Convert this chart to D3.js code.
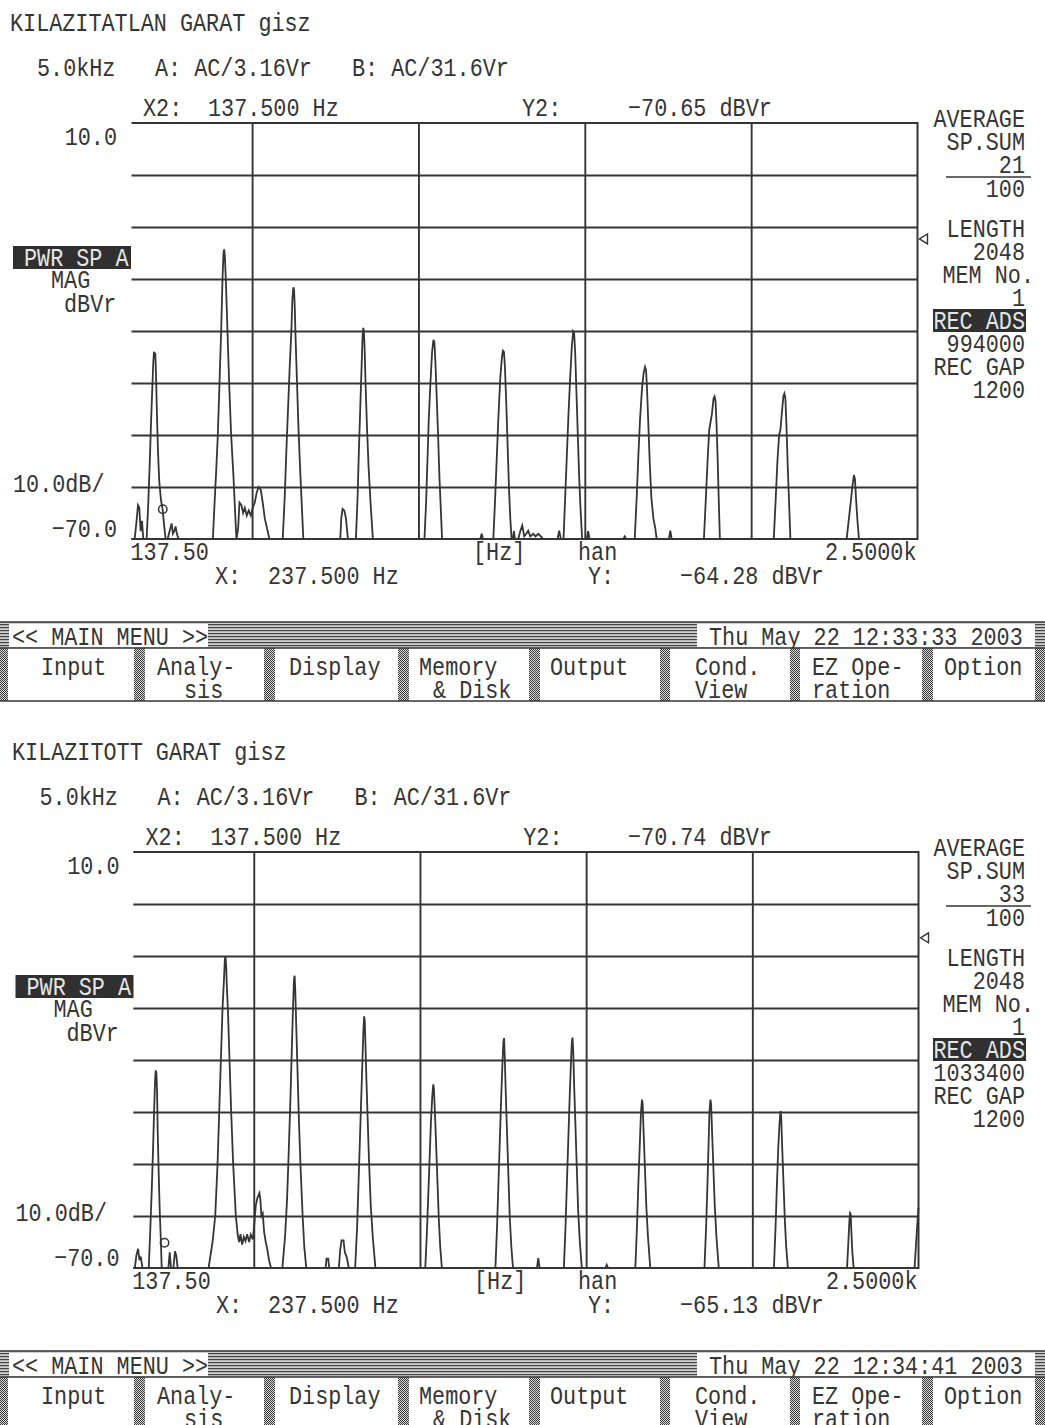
<!DOCTYPE html>
<html>
<head>
<meta charset="utf-8">
<script src="https://cdn.jsdelivr.net/npm/d3@7"></script>
<style>
  html, body { margin: 0; padding: 0; background: #fff; }
  svg { display: block; }
</style>
</head>
<body>
<svg id="screen" width="1045" height="1425"></svg>
<script>
// ---------- analyser settings shown on both screens ----------
const freqDomain = [137.5, 2500];          // Hz, X axis span
const levelDomain = [-70, 10];             // dBVr, Y axis span
const gridFreqs = [500, 1000, 1500, 2000];
const gridLevels = [0, -10, -20, -30, -40, -50, -60];
const dbPerDiv = 10;

const titles = ["KILAZITATLAN GARAT gisz", "KILAZITOTT GARAT gisz"];
const rangeInfo = ["5.0kHz", "A: AC/3.16Vr", "B: AC/31.6Vr"];
const x2Freq = [137.5, 137.5];
const y2Level = [-70.65, -70.74];
const cursorFreq = [237.5, 237.5];
const cursorLevel = [-64.28, -65.13];
const refMarkLevel = [-12.3, -6.5];
const spSum = ["21", "33"];
const spTotal = "100";
const fftLength = "2048";
const memNo = "1";
const recAds = ["994000", "1033400"];
const recGap = "1200";
const timestamps = ["Thu May 22 12:33:33 2003", "Thu May 22 12:34:41 2003"];
const menuItems = [["Input"], ["Analy-", "sis"], ["Display"], ["Memory", "& Disk"],
                   ["Output"], ["Cond.", "View"], ["EZ Ope-", "ration"], ["Option"]];

// ---------- averaged power spectra, [Hz, dBVr] ----------
const spectrumA = [
  [137.5,-70],
  [147,-70],[152,-67],[157,-63.5],[161,-64],[165,-68.5],[169,-66.5],[173,-70],
  [183,-70],[188,-63],[192,-56],[196,-48],[200,-41],[203,-36],[205,-34],[207,-34.6],[209,-34.2],[211,-38],[214,-46],[217,-53],[221,-59],[226,-62.5],[231,-64.3],[235,-67],[240,-70],
  [246,-70],[250,-69],[254,-68],[258,-67],[262,-69],[266,-68.5],[270,-67.6],[274,-69],[279,-70],
  [382,-70],[388,-62],[392,-57],[397,-50],[402,-40],[407,-30],[411,-20],[414,-15],[416,-14.3],[418,-15.5],[421,-20],[426,-30],[431,-40],[437,-50],[444,-58],[449,-65],[453,-70],
  [458,-68],[462,-63],[468,-63.5],[473,-65],[478,-64],[484,-65.5],[490,-64.5],[496,-65.5],[502,-64],[508,-63],[514,-61],[520,-60],[526,-60.5],[532,-63],[538,-66],[545,-68],[552,-70],
  [592,-70],[598,-62],[603,-53],[608,-45],[613,-37],[618,-30],[621,-24],[624,-21.6],[626,-22],[628,-25],[631,-32],[635,-40],[639,-48],[644,-56],[649,-63],[654,-70],
  [765,-70],[768,-66],[772,-64.2],[777,-64.5],[782,-66],[788,-70],
  [812,-70],[817,-62],[821,-53],[825,-45],[829,-37],[832,-31],[834,-29.4],[836,-30],[838,-33],[841,-40],[845,-48],[850,-56],[856,-63],[863,-70],
  [1018,-70],[1023,-63],[1027,-55],[1031,-47],[1036,-40],[1041,-34],[1045,-31.7],[1048,-32.2],[1051,-36],[1055,-43],[1059,-50],[1063,-58],[1067,-64],[1071,-70],
  [1186,-70],[1190,-69],[1194,-70],
  [1225,-70],[1230,-63],[1235,-55],[1240,-47],[1246,-39],[1251,-35],[1254,-33.8],[1257,-34],[1260,-37],[1264,-44],[1268,-52],[1272,-60],[1276,-66],[1280,-70],
  [1284,-70],[1287,-68.5],[1290,-70],[1300,-70],[1306,-68.5],[1312,-67.4],[1318,-69.5],[1324,-69],[1330,-68.4],[1336,-69.5],[1345,-69],[1352,-69.5],[1360,-69],[1368,-69.5],[1375,-70],
  [1418,-70],[1423,-68.4],[1428,-70],
  [1436,-70],[1441,-62],[1446,-54],[1451,-46],[1456,-39],[1461,-33],[1465,-30.1],[1468,-30.5],[1471,-34],[1475,-42],[1479,-50],[1483,-58],[1487,-64],[1492,-70],
  [1506,-70],[1510,-68.5],[1514,-70],
  [1616,-70],[1620,-69.5],[1624,-70],
  [1650,-70],[1656,-62],[1661,-54],[1666,-47],[1672,-41],[1677,-38],[1681,-36.9],[1684,-37.5],[1687,-41],[1691,-48],[1695,-55],[1700,-62],[1706,-66],[1712,-68],[1716,-70],
  [1753,-70],[1757,-68.4],[1761,-70],
  [1858,-70],[1864,-62],[1869,-55],[1874,-49],[1878,-47.5],[1882,-46],[1887,-43],[1890,-42.6],[1893,-43.5],[1896,-48],[1899,-54],[1902,-61],[1906,-70],
  [2068,-70],[2074,-62],[2079,-55],[2084,-50],[2088,-49],[2092,-46],[2097,-42.5],[2100,-42],[2103,-43],[2106,-48],[2110,-56],[2114,-63],[2118,-70],
  [2287,-70],[2294,-66],[2300,-62.5],[2305,-59.5],[2309,-57.7],[2312,-58.5],[2315,-62],[2319,-66],[2324,-70],
  [2500,-70]
];

const spectrumB = [
  [137.5,-70],
  [142,-70],[147,-67.5],[152,-66.3],[156,-68.5],[160,-67.8],[165,-70],
  [184,-70],[189,-62],[193,-55],[197,-47],[200,-40],[203,-34],[205,-32],[207,-32.5],[209,-36],[211,-44],[214,-52],[217,-59],[220,-64],[223,-70],
  [243,-70],[247,-67],[251,-70],[258,-70],[263,-66.8],[267,-67.7],[271,-70],
  [364,-70],[376,-65],[384,-60],[391,-50],[396,-40],[401,-30],[406,-20],[410,-15],[413,-10.5],[415,-10.2],[417,-12],[419,-16],[422,-20],[427,-30],[432,-40],[438,-50],[446,-60],
  [452,-63.8],[456,-65],[460,-63.5],[465,-65.5],[470,-64],[475,-64.8],[480,-63.5],[486,-65],[491,-63.6],[497,-64.5],
  [501,-62],[506,-58],[511,-56.5],[517,-55.6],[520,-57],[523,-60],[527,-59.5],[531,-63],[536,-65],[541,-66.5],[546,-68.5],[552,-70],
  [586,-70],[594,-64],[600,-57],[605,-48],[610,-38],[614,-29],[618,-20],[621,-14.5],[623,-13.8],[625,-17],[628,-24],[632,-33],[636,-42],[641,-51],[647,-60],[652,-66],[658,-70],
  [716,-70],[719,-68.2],[724,-68.2],[727,-70],
  [756,-70],[760,-66.5],[764,-64.7],[770,-64.7],[774,-67],[780,-68],[786,-70],
  [805,-70],[811,-62],[815,-54],[819,-46],[823,-38],[827,-30],[830,-24],[832,-21.6],[834,-22.5],[836,-27],[839,-34],[843,-42],[847,-50],[852,-58],[858,-64],[866,-70],
  [1016,-70],[1021,-63],[1025,-56],[1029,-49],[1033,-42],[1037,-37],[1040,-34.7],[1042,-35.5],[1045,-40],[1049,-47],[1053,-54],[1057,-61],[1061,-66],[1066,-70],
  [1227,-70],[1232,-62],[1236,-54],[1240,-46],[1244,-38],[1248,-31],[1251,-26.5],[1253,-25.8],[1255,-29],[1258,-36],[1262,-44],[1266,-52],[1270,-60],[1275,-66],[1280,-70],
  [1352,-70],[1356,-68.1],[1360,-70],
  [1433,-70],[1438,-62],[1442,-54],[1446,-46],[1450,-38],[1454,-31],[1457,-26.5],[1459,-25.7],[1461,-28],[1464,-35],[1468,-43],[1472,-51],[1476,-59],[1481,-65],[1487,-70],
  [1558,-70],[1562,-69.4],[1566,-70],
  [1648,-70],[1653,-62],[1657,-54],[1661,-47],[1665,-40],[1668,-37.6],[1670,-38.5],[1673,-44],[1677,-51],[1681,-58],[1686,-64],[1693,-70],
  [1856,-70],[1861,-62],[1865,-54],[1868,-47],[1871,-40],[1874,-37.6],[1876,-38.5],[1879,-44],[1883,-51],[1887,-58],[1892,-64],[1899,-70],
  [2065,-70],[2070,-62],[2074,-54],[2078,-47],[2082,-42],[2085,-39.8],[2087,-41],[2090,-47],[2094,-54],[2098,-61],[2102,-66],[2107,-70],
  [2285,-70],[2289,-65],[2292,-61],[2294,-59.4],[2296,-59.6],[2298,-63],[2301,-67],[2305,-70],
  [2488,-70],[2492,-66],[2496,-62],[2500,-58.4]
];

const spectra = [spectrumA, spectrumB];

// ---------- drawing ----------
const INK = "#353535";
const PAPER = "#ffffff";
const FONT_SIZE = 21.8;

const svg = d3.select("#screen")
  .attr("font-family", "'Liberation Mono', 'DejaVu Sans Mono', monospace");

svg.append("rect").attr("width", 1045).attr("height", 1425).attr("fill", PAPER);

const defs = svg.append("defs");
const stripes = defs.append("pattern").attr("id", "stripes")
  .attr("width", 4).attr("height", 3).attr("patternUnits", "userSpaceOnUse");
stripes.append("rect").attr("width", 4).attr("height", 3).attr("fill", "#cfcfcf");
stripes.append("rect").attr("width", 4).attr("height", 1.2).attr("fill", "#444");
const hatch = defs.append("pattern").attr("id", "hatch")
  .attr("width", 2).attr("height", 2).attr("patternUnits", "userSpaceOnUse");
hatch.append("rect").attr("width", 2).attr("height", 2).attr("fill", "#d8d8d8");
hatch.append("rect").attr("width", 1).attr("height", 1).attr("fill", "#3a3a3a");
hatch.append("rect").attr("x", 1).attr("y", 1).attr("width", 1).attr("height", 1).attr("fill", "#3a3a3a");

// instrument font is tall and narrow: stretch the mono face vertically
function label(g, x, y, s, opt = {}) {
  return g.append("text")
    .attr("transform", `translate(${x},${y}) scale(1,1.2)`)
    .attr("text-anchor", opt.anchor || "start")
    .attr("fill", opt.fill || INK)
    .attr("font-size", opt.size || FONT_SIZE)
    .text(s);
}

const fmt1 = d3.format(".1f");
const fmt2 = d3.format(".2f");
const fmt3 = d3.format(".3f");

const screens = [
  { oy: 0,   dx: 0,   left: 131.5, right: 917.5 },
  { oy: 729, dx: 2.5, left: 133.3, right: 918.5 }
];

screens.forEach((s, i) => {
  const g = svg.append("g").attr("class", "screen-" + i);
  const top = 123 + s.oy, bottom = 539 + s.oy;
  const dx = s.dx;

  const x = d3.scaleLinear().domain(freqDomain).range([s.left, s.right]);
  const y = d3.scaleLinear().domain(levelDomain).range([bottom, top]);

  // header lines
  label(g, 10 + dx * 0.8, 31 + s.oy, titles[i]);
  label(g, 37 + dx, 76 + s.oy, rangeInfo[0]);
  label(g, 155 + dx, 76 + s.oy, rangeInfo[1]);
  label(g, 352 + dx, 76 + s.oy, rangeInfo[2]);
  label(g, 143 + dx, 116 + s.oy, "X2:");
  label(g, 208 + dx, 116 + s.oy, fmt3(x2Freq[i]) + " Hz");
  label(g, 522 + dx * 0.5, 116 + s.oy, "Y2:");
  label(g, 628, 116 + s.oy, fmt2(y2Level[i]) + " dBVr");

  // grid
  const grid = g.append("g");
  grid.append("g")
    .attr("transform", `translate(${s.left},0)`)
    .call(d3.axisLeft(y).tickValues(gridLevels).tickSize(-(s.right - s.left)).tickFormat(""))
    .call(a => a.select(".domain").remove());
  grid.append("g")
    .attr("transform", `translate(0,${bottom})`)
    .call(d3.axisBottom(x).tickValues(gridFreqs).tickSize(-(bottom - top)).tickFormat(""))
    .call(a => a.select(".domain").remove());
  grid.selectAll("line").attr("stroke", INK).attr("stroke-width", 1.9);

  // frame: top, right and bottom edges
  g.append("path")
    .attr("d", `M${s.left},${top}H${s.right}V${bottom}H${s.left}`)
    .attr("fill", "none").attr("stroke", INK).attr("stroke-width", 2);

  // spectrum trace
  const line = d3.line().x(d => x(d[0])).y(d => y(d[1]));
  g.append("path")
    .datum(spectra[i])
    .attr("d", line)
    .attr("fill", "none")
    .attr("stroke", INK)
    .attr("stroke-width", 1.8)
    .attr("stroke-linejoin", "miter");

  // cursor marker
  g.append("circle")
    .attr("cx", x(cursorFreq[i]) - 2).attr("cy", y(cursorLevel[i]))
    .attr("r", 4.2)
    .attr("fill", "none").attr("stroke", INK).attr("stroke-width", 1.5);

  // reference level marker at the right edge
  const my = y(refMarkLevel[i]);
  g.append("path")
    .attr("d", `M${s.right + 2},${my}l8,-5v10z`)
    .attr("fill", "none").attr("stroke", INK).attr("stroke-width", 1.4);

  // Y scale labels
  label(g, 117 + dx, y(levelDomain[1]) + 22, fmt1(levelDomain[1]), { anchor: "end" });
  label(g, 117 + dx, y(levelDomain[0]) - 2, fmt1(levelDomain[0]), { anchor: "end" });
  label(g, 13 + dx, y(-60) + 5, fmt1(dbPerDiv) + "dB/");

  // trace name box
  g.append("rect")
    .attr("x", 13 + dx).attr("y", 246 + s.oy)
    .attr("width", 118).attr("height", 23)
    .attr("fill", "#303030");
  label(g, 24 + dx, 266 + s.oy, "PWR SP A", { fill: "#e6e6e6" });
  label(g, 51 + dx, 288 + s.oy, "MAG");
  label(g, 64 + dx, 312 + s.oy, "dBVr");

  // X scale labels
  label(g, x(freqDomain[0]) - 1, bottom + 21, fmt2(freqDomain[0]));
  label(g, 473 + dx * 0.4, bottom + 21, "[Hz]");
  label(g, 578, bottom + 21, "han");
  label(g, x(freqDomain[1]) - 1, bottom + 21, (freqDomain[1] / 1000).toFixed(4) + "k", { anchor: "end" });

  // cursor readout
  label(g, 215 + dx * 0.4, 584 + s.oy, "X:");
  label(g, 268, 584 + s.oy, fmt3(cursorFreq[i]) + " Hz");
  label(g, 588, 584 + s.oy, "Y:");
  label(g, 680, 584 + s.oy, fmt2(cursorLevel[i]) + " dBVr");

  // status column on the right
  const rx = 1025;
  const rows = [
    [127, "AVERAGE"], [150, "SP.SUM"], [173, spSum[i]], [197, spTotal],
    [237, "LENGTH"], [260, fftLength], [352, recAds[i]], [375, "REC GAP"], [398, recGap]
  ];
  rows.forEach(r => label(g, rx, r[0] + s.oy, r[1], { anchor: "end" }));
  label(g, 1034, 283 + s.oy, "MEM No.", { anchor: "end" });
  label(g, rx, 306 + s.oy, memNo, { anchor: "end" });
  g.append("line")
    .attr("x1", 946).attr("x2", 1031)
    .attr("y1", 177 + s.oy).attr("y2", 177 + s.oy)
    .attr("stroke", INK).attr("stroke-width", 1.5);
  g.append("rect")
    .attr("x", 933).attr("y", 309 + s.oy)
    .attr("width", 93).attr("height", 23)
    .attr("fill", "#303030");
  label(g, rx, 329 + s.oy, "REC ADS", { anchor: "end", fill: "#e6e6e6" });

  // main menu bar
  const y0 = 622 + s.oy;
  const menu = g.append("g");
  menu.append("rect").attr("x", 0).attr("y", y0).attr("width", 1045).attr("height", 26)
    .attr("fill", "url(#stripes)");
  menu.append("rect").attr("x", 9).attr("y", y0 + 2).attr("width", 199).attr("height", 23).attr("fill", PAPER);
  menu.append("rect").attr("x", 697).attr("y", y0 + 2).attr("width", 338).attr("height", 23).attr("fill", PAPER);
  label(menu, 12, y0 + 23, "<< MAIN MENU >>");
  label(menu, 709, y0 + 23, timestamps[i]);

  menu.append("rect").attr("x", 0).attr("y", y0 + 26).attr("width", 1045).attr("height", 53).attr("fill", PAPER);
  const seps = [[0, 8], [134, 145], [264, 275], [398, 409], [529, 540], [660, 670], [790, 800], [922, 933], [1035, 1045]];
  seps.forEach(p => menu.append("rect")
    .attr("x", p[0]).attr("y", y0 + 26).attr("width", p[1] - p[0]).attr("height", 53)
    .attr("fill", "url(#hatch)"));
  [y0, y0 + 26, y0 + 79].forEach(yy => menu.append("line")
    .attr("x1", 0).attr("x2", 1045).attr("y1", yy).attr("y2", yy)
    .attr("stroke", INK).attr("stroke-width", 1.6));

  const labelX = [[41], [157, 184], [289], [419, 433], [550], [695, 695], [812, 812], [944]];
  menuItems.forEach((item, k) => {
    item.forEach((t, j) => label(menu, labelX[k][j], y0 + 53 + j * 23, t));
  });
});
</script>
</body>
</html>
